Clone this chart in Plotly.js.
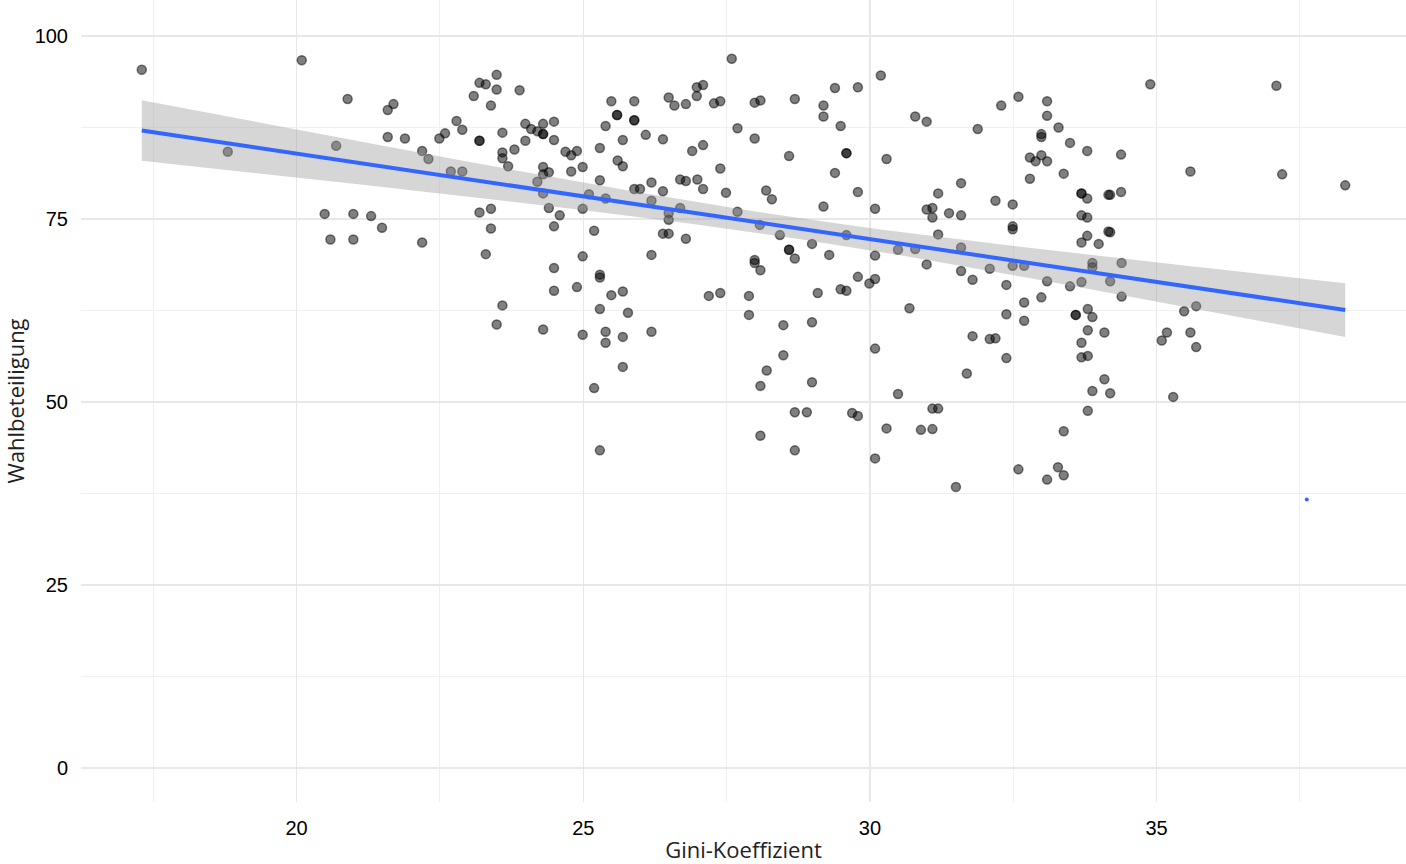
<!DOCTYPE html>
<html>
<head>
<meta charset="utf-8">
<script src="https://cdn.plot.ly/plotly-3.0.1.min.js"></script>
<style>
  html, body { margin: 0; padding: 0; background: #fff; }
  #chart { width: 1406px; height: 864px; }
</style>
</head>
<body>
<div id="chart"></div>
<script>
// Gini-Koeffizient (x) und Wahlbeteiligung (y)
const gini = [
  17.30, 18.80, 20.09, 20.49, 20.59, 20.69, 20.89, 20.99, 20.99, 21.30,
  21.49, 21.59, 21.59, 21.69, 21.89, 22.19, 22.19, 22.30, 22.49, 22.59,
  22.79, 22.89, 22.69, 22.89, 23.09, 23.19, 23.30, 23.49, 23.49, 23.39,
  23.19, 23.59, 23.59, 23.59, 23.69, 23.80, 23.89, 23.99, 24.09, 24.20,
  24.30, 24.30, 24.49, 24.49, 23.99, 24.69, 24.79, 24.89, 24.30, 24.40,
  24.30, 24.20, 24.30, 24.79, 24.99, 25.29, 25.39, 25.49, 25.59, 25.69,
  25.89, 25.89, 25.60, 25.69, 26.09, 26.39, 26.49, 26.59, 26.79, 26.98,
  27.09, 26.98, 27.28, 27.39, 27.59, 27.69, 27.99, 28.09, 27.99, 26.90,
  27.09, 27.39, 25.29, 25.89, 25.99, 26.19, 26.39, 26.69, 26.79, 26.99,
  27.09, 27.49, 28.19, 28.29, 25.10, 25.39, 26.19, 26.49, 26.49, 26.69,
  27.69, 28.08, 23.19, 23.39, 23.39, 24.40, 24.59, 24.49, 24.99, 25.19,
  26.39, 26.49, 26.79, 23.30, 24.99, 26.19, 27.99, 28.43, 28.69, 29.19,
  29.19, 29.39, 29.79, 30.19, 29.49, 29.59, 28.59, 30.29, 29.39, 29.79,
  29.19, 30.09, 30.79, 30.99, 31.88, 32.29, 32.59, 33.09, 33.09, 33.29,
  32.99, 32.99, 33.49, 33.79, 32.79, 32.89, 32.99, 33.09, 33.38, 32.79,
  31.59, 31.19, 30.99, 31.09, 31.09, 31.38, 31.59, 32.19, 32.49, 32.49,
  32.49, 33.69, 33.79, 33.69, 33.79, 34.16, 34.16, 33.79, 33.69, 33.99,
  28.59, 28.69, 28.99, 29.29, 29.59, 30.09, 30.49, 30.79, 31.19, 31.59,
  34.89, 37.09, 34.38, 35.59, 37.19, 38.29, 34.19, 34.38, 34.19, 24.49,
  25.29, 25.29, 24.49, 24.89, 25.49, 25.69, 23.59, 23.49, 25.29, 25.78,
  24.30, 24.99, 25.39, 25.39, 25.69, 25.69, 25.19, 25.29, 26.19, 27.19,
  27.39, 27.89, 27.89, 27.99, 28.09, 28.49, 28.99, 28.49, 28.20, 28.09,
  28.99, 28.69, 28.90, 28.09, 28.69, 29.09, 29.49, 29.59, 29.79, 29.99,
  30.09, 30.99, 30.69, 30.09, 29.69, 29.79, 30.49, 30.29, 30.09, 30.89,
  31.09, 31.09, 31.19, 31.59, 31.79, 32.09, 32.49, 32.69, 32.38, 33.09,
  33.49, 33.69, 33.88, 33.88, 34.19, 34.39, 34.39, 32.69, 32.99, 32.38,
  32.69, 33.59, 33.80, 33.88, 33.80, 34.09, 33.69, 33.69, 33.80, 31.79,
  32.09, 32.19, 32.38, 31.69, 34.09, 33.88, 34.19, 33.80, 31.50, 32.59,
  33.09, 33.28, 33.38, 33.38, 35.48, 35.69, 35.18, 35.09, 35.59, 35.69,
  35.29,
  // übereinanderliegende Punkte
  23.19, 24.30, 25.59, 25.89, 29.59, 33.69, 28.59, 33.59
];

const turnout = [
  95.4, 84.2, 96.7, 75.7, 72.2, 85.0, 91.4, 75.7, 72.2, 75.4,
  73.8, 89.9, 86.2, 90.7, 86.0, 84.3, 71.8, 83.2, 86.0, 86.7,
  88.4, 87.2, 81.5, 81.5, 91.8, 93.6, 93.4, 94.7, 92.7, 90.5,
  85.7, 86.8, 84.1, 83.3, 82.2, 84.5, 92.6, 88.0, 87.3, 87.0,
  88.0, 86.6, 88.3, 85.8, 85.7, 84.2, 83.7, 84.3, 82.1, 81.4,
  81.1, 80.1, 78.5, 81.5, 82.1, 84.7, 87.7, 91.1, 89.2, 85.8,
  91.1, 88.5, 83.0, 82.2, 86.5, 85.9, 91.6, 90.5, 90.7, 93.0,
  93.3, 91.8, 90.8, 91.1, 96.9, 87.4, 90.9, 91.2, 86.0, 84.3,
  85.1, 81.9, 80.3, 79.1, 79.1, 80.0, 78.8, 80.4, 80.2, 80.4,
  79.1, 78.6, 78.9, 77.7, 78.4, 77.8, 77.5, 75.8, 74.9, 76.5,
  76.0, 74.2, 75.9, 76.4, 73.7, 76.5, 75.5, 74.0, 76.4, 73.4,
  73.0, 73.0, 72.3, 70.2, 69.9, 70.1, 69.4, 72.8, 91.4, 90.5,
  89.0, 92.9, 93.0, 94.6, 87.7, 84.0, 83.6, 83.2, 81.3, 78.7,
  76.7, 76.4, 89.0, 88.3, 87.3, 90.5, 91.7, 91.1, 89.1, 87.5,
  86.6, 86.2, 85.4, 84.3, 83.4, 82.9, 83.7, 82.9, 81.2, 80.5,
  79.9, 78.5, 76.3, 76.5, 75.2, 75.8, 75.5, 77.5, 77.0, 74.0,
  73.6, 78.5, 77.8, 75.5, 75.2, 78.3, 73.3, 72.7, 71.8, 71.6,
  70.8, 69.6, 71.6, 70.1, 72.8, 70.0, 70.8, 70.9, 72.9, 71.1,
  93.4, 93.2, 83.8, 81.5, 81.1, 79.6, 78.3, 78.7, 73.2, 68.3,
  67.4, 67.0, 65.2, 65.7, 64.6, 65.1, 63.2, 60.6, 62.7, 62.2,
  59.9, 59.2, 59.6, 58.1, 58.9, 54.8, 51.9, 43.4, 59.6, 64.5,
  64.9, 64.5, 61.9, 69.0, 68.0, 60.5, 60.9, 56.4, 54.3, 52.2,
  52.7, 48.6, 48.6, 45.4, 43.4, 64.9, 65.4, 65.2, 67.1, 66.2,
  66.8, 68.8, 62.8, 57.3, 48.5, 48.1, 51.1, 46.4, 42.3, 46.2,
  46.3, 49.1, 49.1, 67.9, 66.7, 68.2, 68.6, 68.6, 66.0, 66.5,
  65.8, 66.4, 69.0, 68.4, 66.5, 69.0, 64.4, 63.6, 64.3, 62.0,
  61.1, 61.9, 62.7, 61.6, 59.8, 59.5, 58.1, 56.1, 56.3, 59.0,
  58.6, 58.7, 56.0, 53.9, 53.1, 51.5, 51.2, 48.8, 38.4, 40.8,
  39.4, 41.1, 40.0, 46.0, 62.4, 63.1, 59.5, 58.4, 59.5, 57.5,
  50.7,
  85.7, 86.6, 89.2, 88.5, 84.0, 78.5, 70.8, 61.9
];

// kleiner blauer Punkt unten rechts
const strayX = [37.62];
const strayY = [36.7];

const xTicks = [20, 25, 30, 35];
const xMinor = [17.5, 22.5, 27.5, 32.5, 37.5];
const yTicks = [0, 25, 50, 75, 100];
const yMinor = [12.5, 37.5, 62.5, 87.5];

// lineare Regression + 95%-Konfidenzband (wie geom_smooth(method = "lm"))
const linearFit = (xs, ys) => {
  const n = xs.length;
  const mx = xs.reduce((a, b) => a + b, 0) / n;
  const my = ys.reduce((a, b) => a + b, 0) / n;
  let sxx = 0, sxy = 0;
  for (let i = 0; i < n; i++) {
    sxx += (xs[i] - mx) * (xs[i] - mx);
    sxy += (xs[i] - mx) * (ys[i] - my);
  }
  const b = sxy / sxx;
  const a = my - b * mx;
  let sse = 0;
  for (let i = 0; i < n; i++) {
    const r = ys[i] - (a + b * xs[i]);
    sse += r * r;
  }
  const s = Math.sqrt(sse / (n - 2));
  const t = 1.968;
  const lo = Math.min(...xs), hi = Math.max(...xs);
  const fx = [], fy = [], up = [], dn = [];
  for (let k = 0; k <= 80; k++) {
    const x0 = lo + (hi - lo) * k / 80;
    const y0 = a + b * x0;
    const se = s * Math.sqrt(1 / n + (x0 - mx) * (x0 - mx) / sxx);
    fx.push(x0); fy.push(y0); up.push(y0 + t * se); dn.push(y0 - t * se);
  }
  return { fx, fy, up, dn };
};

const fit = linearFit(gini, turnout);

const data = [
  {
    x: gini, y: turnout, type: "scatter", mode: "markers",
    marker: { size: 9, color: "rgba(0,0,0,0.5)", line: { color: "rgba(0,0,0,0.5)", width: 1.5 } }
  },
  {
    x: fit.fx.concat(fit.fx.slice().reverse()),
    y: fit.up.concat(fit.dn.slice().reverse()),
    type: "scatter", mode: "lines", fill: "toself",
    fillcolor: "rgba(153,153,153,0.4)", line: { width: 0 }
  },
  {
    x: fit.fx, y: fit.fy, type: "scatter", mode: "lines",
    line: { color: "#3366FF", width: 4 }
  },
  {
    x: strayX, y: strayY, type: "scatter", mode: "markers",
    marker: { size: 4, color: "#3366FF" }
  }
];

const tickFont = { family: "Liberation Sans, Arial, sans-serif", size: 20, color: "#000" };
const titleFont = { family: "Open Sans, sans-serif", size: 22, color: "#222" };

const layout = {
  width: 1406, height: 864,
  margin: { l: 81, r: 0, t: 0, b: 62 },
  paper_bgcolor: "#fff", plot_bgcolor: "#fff",
  showlegend: false, hovermode: false,
  xaxis: {
    range: [16.24, 39.35], tickvals: xTicks, ticks: "", ticklabelstandoff: 12,
    showgrid: true, gridcolor: "#e8e8e8", gridwidth: 1.2,
    minor: { tickmode: "array", tickvals: xMinor, showgrid: true, gridcolor: "#f0f0f0", gridwidth: 1 },
    zeroline: false, showline: false, tickfont: tickFont,
    title: { text: "Gini-Koeffizient", font: titleFont, standoff: 6 }
  },
  yaxis: {
    range: [-4.64, 104.92], tickvals: yTicks, ticks: "", ticklabelstandoff: 12,
    showgrid: true, gridcolor: "#e8e8e8", gridwidth: 1.2,
    minor: { tickmode: "array", tickvals: yMinor, showgrid: true, gridcolor: "#f0f0f0", gridwidth: 1 },
    zeroline: false, showline: false, tickfont: tickFont,
    title: { text: "Wahlbeteiligung", font: titleFont, standoff: 6 }
  }
};

Plotly.newPlot("chart", data, layout, { staticPlot: true, displayModeBar: false });
</script>
</body>
</html>
